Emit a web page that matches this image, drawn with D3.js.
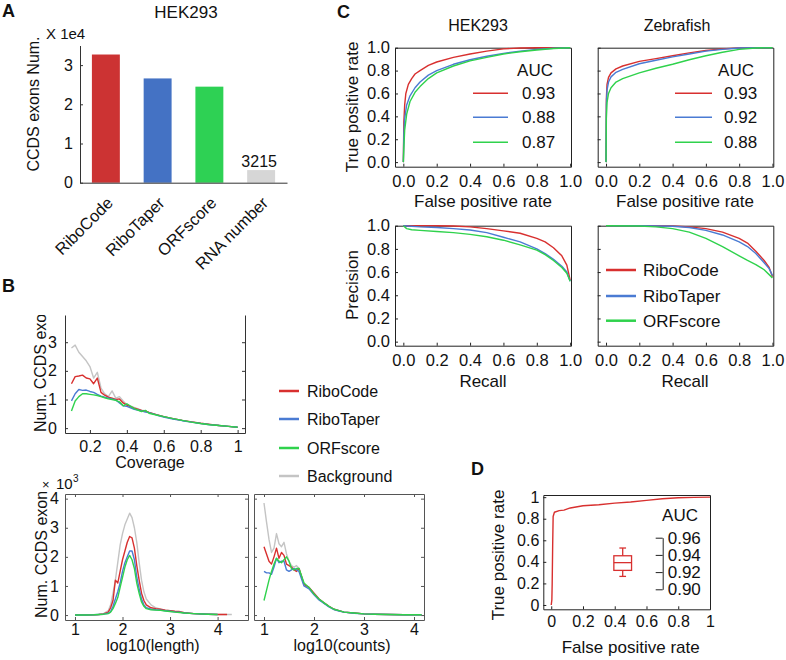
<!DOCTYPE html>
<html><head><meta charset="utf-8">
<script src="https://cdn.jsdelivr.net/npm/d3@7"></script>
<style>body{margin:0;background:#fff}</style>
</head><body><svg id="c" width="786" height="660"></svg>
<script>
// ================= DATA =================
// Panel A
const barCategories = ["RiboCode","RiboTaper","ORFscore","RNA number"];
const barValues = [3.27, 2.66, 2.45, 0.3215];      // x 1e4
const barTicks = [0,1,2,3];
const barNote = "3215";

// Panel B top: coverage
const covX     = [0.10,0.12,0.14,0.16,0.18,0.20,0.22,0.24,0.26,0.28,0.30,0.32,0.34,0.36,0.38,0.40,0.44,0.48,0.50,0.52,0.56,0.60,0.65,0.70,0.75,0.80,0.85,0.90,0.95,1.00];
const covBg    = [2.80,2.90,2.65,2.50,2.35,2.15,1.75,1.95,1.40,1.20,1.10,1.30,1.05,1.10,0.95,0.82,0.72,0.63,0.60,0.55,0.47,0.40,0.33,0.27,0.22,0.17,0.13,0.09,0.06,0.03];
const covRibo  = [1.55,1.80,1.82,1.85,1.75,1.72,1.55,1.75,1.25,1.15,1.08,1.05,1.00,1.02,0.88,0.80,0.70,0.62,0.60,0.55,0.47,0.40,0.33,0.27,0.22,0.17,0.13,0.09,0.06,0.03];
const covTaper = [0.95,1.20,1.35,1.32,1.33,1.28,1.25,1.18,1.12,1.08,1.05,1.02,0.98,0.88,0.78,0.76,0.66,0.60,0.56,0.54,0.46,0.39,0.32,0.26,0.21,0.16,0.12,0.09,0.06,0.03];
const covORF   = [0.60,0.95,1.10,1.20,1.20,1.18,1.16,1.14,1.10,1.06,1.02,1.00,0.97,0.92,0.78,0.85,0.68,0.58,0.62,0.52,0.46,0.40,0.33,0.27,0.21,0.16,0.12,0.09,0.06,0.03];
const covXTicks = [0.2,0.4,0.6,0.8,1];
const covYTicks = [0,1,2,3];

// Panel B bottom-left: log10(length)  (x 1e3)
const lenX     = [1.0,1.2,1.4,1.5,1.6,1.7,1.75,1.8,1.85,1.9,1.95,2.0,2.05,2.1,2.15,2.2,2.25,2.3,2.35,2.4,2.45,2.5,2.6,2.7,2.8,2.9,3.0,3.1,3.2,3.3,3.5,3.8,4.0,4.2,4.3];
const lenBg    = [0,0,0.01,0.02,0.05,0.15,0.35,0.75,1.2,1.8,2.4,2.8,3.1,3.3,3.5,3.35,3.0,2.5,1.8,1.2,0.8,0.55,0.35,0.25,0.2,0.17,0.15,0.12,0.1,0.08,0.05,0.03,0.02,0.02,0.02];
const lenRibo  = [0,0,0.01,0.02,0.04,0.1,0.25,0.5,1.2,1.1,1.5,1.9,2.2,2.5,2.7,2.65,2.3,1.7,1.2,0.75,0.5,0.35,0.25,0.22,0.2,0.17,0.15,0.13,0.12,0.08,0.05,0.03,0.02,0.02,null];
const lenTaper = [0,0,0.01,0.02,0.03,0.06,0.12,0.3,0.55,0.8,1.1,1.5,1.8,2.0,2.2,2.2,1.9,1.3,0.9,0.55,0.35,0.25,0.2,0.18,0.17,0.15,0.13,0.11,0.1,0.07,0.05,0.03,0.02,null,null];
const lenORF   = [0,0,0.01,0.02,0.03,0.05,0.1,0.22,0.4,0.6,0.95,1.3,1.65,1.9,2.05,1.9,1.6,1.1,0.75,0.45,0.3,0.22,0.18,0.17,0.16,0.14,0.12,0.1,0.09,0.07,0.05,0.03,0.02,null,null];
const logXTicks = [1,2,3,4];
const logYTicks = [0,1,2,3,4];

// Panel B bottom-right: log10(counts)
const cntX     = [1.0,1.05,1.1,1.15,1.2,1.25,1.3,1.35,1.4,1.45,1.5,1.55,1.6,1.65,1.7,1.8,1.9,2.0,2.1,2.2,2.3,2.4,2.5,2.6,2.8,3.0,3.2,3.5,3.8,4.15];
const cntBg    = [3.85,3.2,2.6,2.15,2.3,2.8,2.45,2.35,2.5,2.1,1.85,1.7,1.65,1.7,1.6,1.05,0.95,0.75,0.55,0.42,0.3,0.2,0.15,0.1,0.07,0.04,0.03,0.02,0.01,0.01];
const cntRibo  = [2.35,2.1,1.85,1.75,2.0,2.3,1.95,2.15,2.05,1.75,1.7,1.65,1.55,1.5,1.6,1.05,0.95,0.75,0.55,0.42,0.3,0.2,0.15,0.1,0.07,0.04,0.03,0.02,0.01,0.01];
const cntTaper = [1.5,1.45,1.45,1.4,1.65,1.95,1.8,1.85,1.85,1.55,1.5,1.55,1.6,1.55,1.5,1.0,0.9,0.7,0.52,0.4,0.28,0.19,0.14,0.1,0.06,0.04,0.03,0.02,0.01,0.01];
const cntORF   = [0.5,0.85,1.2,1.5,1.75,1.95,1.85,1.8,1.9,2.0,1.85,1.6,1.55,1.6,1.6,1.1,0.95,0.72,0.55,0.42,0.3,0.2,0.15,0.1,0.07,0.04,0.03,0.02,0.01,0.01];

// Panel C: ROC curves [fpr, tpr]
const rocHekRibo  = [[0,0],[0.003,0.35],[0.008,0.5],[0.015,0.6],[0.03,0.68],[0.05,0.73],[0.07,0.77],[0.1,0.8],[0.15,0.845],[0.2,0.875],[0.3,0.915],[0.4,0.945],[0.5,0.97],[0.6,0.99],[0.7,0.997],[0.8,1],[1,1]];
const rocHekTaper = [[0,0],[0.003,0.25],[0.008,0.38],[0.02,0.5],[0.04,0.58],[0.07,0.65],[0.1,0.7],[0.15,0.76],[0.2,0.8],[0.3,0.855],[0.4,0.895],[0.5,0.925],[0.6,0.95],[0.7,0.97],[0.8,0.985],[0.9,0.995],[1,1]];
const rocHekORF   = [[0,0],[0.003,0.12],[0.008,0.28],[0.02,0.42],[0.04,0.53],[0.07,0.61],[0.1,0.66],[0.15,0.73],[0.2,0.78],[0.3,0.84],[0.4,0.885],[0.5,0.915],[0.6,0.945],[0.7,0.965],[0.8,0.98],[0.9,0.993],[1,1]];
const rocZebRibo  = [[0,0],[0.002,0.55],[0.006,0.68],[0.015,0.74],[0.03,0.78],[0.06,0.815],[0.1,0.84],[0.2,0.88],[0.3,0.905],[0.4,0.93],[0.5,0.955],[0.6,0.975],[0.7,0.99],[0.8,0.998],[1,1]];
const rocZebTaper = [[0,0],[0.002,0.5],[0.006,0.63],[0.015,0.7],[0.03,0.745],[0.06,0.785],[0.1,0.81],[0.2,0.86],[0.3,0.89],[0.4,0.92],[0.5,0.945],[0.6,0.97],[0.7,0.985],[0.8,0.997],[1,1]];
const rocZebORF   = [[0,0],[0.002,0.38],[0.006,0.52],[0.015,0.6],[0.03,0.65],[0.06,0.7],[0.1,0.73],[0.2,0.78],[0.3,0.82],[0.4,0.855],[0.5,0.895],[0.6,0.93],[0.7,0.96],[0.8,0.985],[0.9,0.998],[1,1]];
// Panel C: precision-recall [recall, precision]
const prHekRibo   = [[0,1],[0.1,1],[0.2,1],[0.3,0.997],[0.4,0.99],[0.5,0.975],[0.6,0.955],[0.7,0.935],[0.8,0.89],[0.85,0.86],[0.9,0.81],[0.95,0.74],[0.98,0.66],[1,0.53]];
const prHekTaper  = [[0,1],[0.1,0.99],[0.2,0.985],[0.3,0.975],[0.4,0.963],[0.5,0.94],[0.6,0.9],[0.7,0.86],[0.8,0.8],[0.85,0.76],[0.9,0.71],[0.95,0.65],[0.98,0.6],[1,0.52]];
const prHekORF    = [[0,1],[0.02,0.975],[0.05,0.965],[0.1,0.96],[0.2,0.95],[0.3,0.94],[0.4,0.925],[0.5,0.905],[0.6,0.875],[0.7,0.835],[0.8,0.79],[0.85,0.75],[0.9,0.7],[0.95,0.64],[0.98,0.59],[1,0.52]];
const prZebRibo   = [[0,1],[0.2,1],[0.4,0.998],[0.5,0.99],[0.6,0.975],[0.7,0.945],[0.8,0.89],[0.85,0.85],[0.9,0.78],[0.95,0.7],[0.98,0.64],[1,0.56]];
const prZebTaper  = [[0,1],[0.2,1],[0.4,0.995],[0.5,0.985],[0.6,0.96],[0.7,0.92],[0.8,0.86],[0.85,0.82],[0.9,0.76],[0.95,0.68],[0.98,0.63],[1,0.57]];
const prZebORF    = [[0,1],[0.2,0.998],[0.3,0.99],[0.4,0.975],[0.5,0.945],[0.6,0.89],[0.7,0.82],[0.8,0.74],[0.85,0.7],[0.9,0.665],[0.95,0.62],[1,0.55]];
const methods = ["RiboCode","RiboTaper","ORFscore"];
const aucHek = ["0.93","0.88","0.87"];
const aucZeb = ["0.93","0.92","0.88"];
const unitTicks = [0,0.2,0.4,0.6,0.8,1.0];

// Panel D
const rocD = [[0,0],[0.004,0.05],[0.006,0.2],[0.009,0.55],[0.012,0.82],[0.02,0.86],[0.05,0.875],[0.08,0.88],[0.12,0.9],[0.2,0.92],[0.3,0.93],[0.4,0.945],[0.5,0.955],[0.6,0.97],[0.7,0.985],[0.8,0.995],[0.9,0.998],[1,1]];
const aucStats = [0.915, 0.922, 0.931, 0.939, 0.948]; // whisker low, q1, median, q3, whisker high
const aucTicks = [0.90,0.92,0.94,0.96];

// ================= STYLE =================
const FONT = "Arial, 'Liberation Sans', Helvetica, sans-serif";
const C_RED = "#d8302f", C_BLUE = "#4a7bd3", C_GREEN = "#2fd24c", C_GRAY = "#c4c4c4";
const BAR_COLORS = ["#cc3333", "#4472c4", "#2ed154", "#d6d6d6"];
const LINE_COLORS = [C_RED, C_BLUE, C_GREEN];

const svg = d3.select("#c");
svg.append("rect").attr("width",786).attr("height",660).attr("fill","#fff");

function text(x, y, s, o = {}) {
  const parent = o.parent || svg;
  const t = parent.append("text").attr("x", x).attr("y", y).text(s)
    .attr("font-family", FONT).attr("font-size", o.fs || 16)
    .attr("fill", o.fill || "#111")
    .attr("text-anchor", o.anchor || "start");
  if (o.bold) t.attr("font-weight", "bold");
  if (o.rot) t.attr("transform", `rotate(${o.rot},${x},${y})`);
  return t;
}

function styleAxis(sel, color, fs) {
  sel.attr("font-family", FONT).attr("font-size", fs);
  sel.selectAll(".domain").attr("stroke", color).attr("stroke-width", 1);
  sel.selectAll(".tick line").attr("stroke", color);
  sel.selectAll(".tick text").attr("fill", "#111");
}

function boxAxes(x, y, o) {
  const g = svg.append("g");
  const [x0, x1] = x.range(), [y0, y1] = y.range();
  const ts = o.ts == null ? 3 : o.ts;
  g.append("g").attr("transform", `translate(0,${y0})`)
    .call(d3.axisBottom(x).tickValues(o.xt).tickSize(-ts).tickSizeOuter(0).tickPadding(o.xpad).tickFormat(o.xf))
    .call(s => styleAxis(s, o.color, o.fs));
  g.append("g").attr("transform", `translate(${x0},0)`)
    .call(d3.axisLeft(y).tickValues(o.yt).tickSize(-ts).tickSizeOuter(0).tickPadding(o.ypad).tickFormat(o.yf))
    .call(s => styleAxis(s, o.color, o.fs));
  if (o.top) g.append("g").attr("transform", `translate(0,${y1})`)
    .call(d3.axisTop(x).tickValues(o.topTicks || []).tickSize(-ts).tickSizeOuter(0).tickFormat(""))
    .call(s => styleAxis(s, o.color, o.fs));
  if (o.right) g.append("g").attr("transform", `translate(${x1},0)`)
    .call(d3.axisRight(y).tickValues(o.rightTicks || []).tickSize(-ts).tickSizeOuter(0).tickFormat(""))
    .call(s => styleAxis(s, o.color, o.fs));
  return g;
}

function drawLine(x, y, pts, color, w = 1.4) {
  svg.append("path").datum(pts)
    .attr("fill", "none").attr("stroke", color).attr("stroke-width", w)
    .attr("stroke-linejoin", "round")
    .attr("d", d3.line().defined(d => d[1] != null).x(d => x(d[0])).y(d => y(d[1])));
}
const zipXY = (xs, ys) => xs.map((v, i) => [v, ys[i]]);

// ================= PANEL A =================
text(2, 17, "A", {bold: true, fs: 18});
text(186, 18, "HEK293", {anchor: "middle", fs: 17});
text(46, 39, "X 1e4", {fs: 15});
const ax = d3.scaleBand().domain(barCategories).range([80, 287]).paddingInner(0.46).paddingOuter(0.23);
const ay = d3.scaleLinear().domain([0, 3.5]).range([182.7, 45.5]);
svg.append("g").selectAll("rect").data(barValues).join("rect")
  .attr("x", (d, i) => ax(barCategories[i])).attr("width", ax.bandwidth())
  .attr("y", d => ay(d)).attr("height", d => ay(0) - ay(d))
  .attr("fill", (d, i) => BAR_COLORS[i]);
svg.append("g").attr("transform", "translate(80,0)")
  .call(d3.axisLeft(ay).tickValues(barTicks).tickSize(-3).tickSizeOuter(0).tickPadding(7).tickFormat(d3.format("d")))
  .call(s => styleAxis(s, "#333", 16));
svg.append("g").attr("transform", "translate(0,182.7)")
  .call(d3.axisBottom(ax).tickSize(0).tickSizeOuter(0).tickFormat(""))
  .call(s => styleAxis(s, "#333", 16));
barCategories.forEach((c, i) => {
  text(ax(c) + ax.bandwidth() / 2 + 8, 204, c, {anchor: "end", rot: -45, fs: 16.5});
});
text(ax(barCategories[3]) + ax.bandwidth() / 2 - 2, 167, barNote, {anchor: "middle"});
text(39, 104, "CCDS exons Num.", {anchor: "middle", rot: -90});

// ================= PANEL B =================
text(2, 292, "B", {bold: true, fs: 18});
// top coverage plot
const bx = d3.scaleLinear().domain([0.065, 1.04]).range([65, 245]);
const by = d3.scaleLinear().domain([-0.17, 3.95]).range([433, 315]);
boxAxes(bx, by, {xt: covXTicks, yt: covYTicks, xf: d3.format(""), yf: d3.format("d"),
  xpad: 8, ypad: 8, color: "#333", fs: 16, right: true, rightTicks: covYTicks});
[[covBg, C_GRAY], [covRibo, C_RED], [covTaper, C_BLUE], [covORF, C_GREEN]].forEach(([s, c]) =>
  drawLine(bx, by, zipXY(covX, s), c));
text(150, 468, "Coverage", {anchor: "middle"});
svg.append("clipPath").attr("id", "clipB").append("rect").attr("x", 0).attr("y", 315).attr("width", 60).attr("height", 130);
const gClip = svg.append("g").attr("clip-path", "url(#clipB)");
text(46, 432, "Num. CCDS exons", {rot: -90, parent: gClip});

// legend B
const legB = ["RiboCode", "RiboTaper", "ORFscore", "Background"];
const legBC = [C_RED, C_BLUE, C_GREEN, C_GRAY];
const legBY = [391, 419, 448, 476];
legB.forEach((l, i) => {
  svg.append("line").attr("x1", 279).attr("x2", 299).attr("y1", legBY[i]).attr("y2", legBY[i])
    .attr("stroke", legBC[i]).attr("stroke-width", 2.5);
  text(307, legBY[i] + 6, l);
});

// bottom-left
const lx = d3.scaleLinear().domain([0.79, 4.64]).range([65, 248]);
const ly = d3.scaleLinear().domain([-0.17, 4.16]).range([620, 494]);
boxAxes(lx, ly, {xt: logXTicks, yt: logYTicks, xf: d3.format("d"), yf: d3.format("d"),
  xpad: 4, ypad: 6, color: "#555", fs: 16, top: true, topTicks: logXTicks, right: true, rightTicks: logYTicks});
[[lenBg, C_GRAY], [lenRibo, C_RED], [lenTaper, C_BLUE], [lenORF, C_GREEN]].forEach(([s, c]) =>
  drawLine(lx, ly, zipXY(lenX, s), c));
text(153, 651, "log10(length)", {anchor: "middle"});
text(47, 618, "Num. CCDS exon", {rot: -90});
text(42, 489, "×", {fs: 13});
text(56, 489, "10", {fs: 15});
text(73, 482, "3", {fs: 10});

// bottom-right
const cx = d3.scaleLinear().domain([0.8, 4.2]).range([254, 424]);
const cy = d3.scaleLinear().domain([-0.17, 4.16]).range([620, 494]);
boxAxes(cx, cy, {xt: logXTicks, yt: logYTicks, xf: d3.format("d"), yf: "",
  xpad: 4, ypad: 6, color: "#555", fs: 16, top: true, topTicks: logXTicks, right: true, rightTicks: logYTicks});
[[cntBg, C_GRAY], [cntRibo, C_RED], [cntTaper, C_BLUE], [cntORF, C_GREEN]].forEach(([s, c]) =>
  drawLine(cx, cy, zipXY(cntX, s), c));
text(342, 651, "log10(counts)", {anchor: "middle"});

// ================= PANEL C =================
text(337, 18, "C", {bold: true, fs: 18});
const f1 = d3.format(".1f");
function cPlot(x0, x1, y0, y1, yd0, showY) {
  const x = d3.scaleLinear().domain([-0.05, 1.005]).range([x0, x1]);
  const y = d3.scaleLinear().domain([yd0, 1.0]).range([y0, y1]);
  boxAxes(x, y, {xt: unitTicks, yt: unitTicks, xf: f1, yf: showY ? f1 : "",
    xpad: 9, ypad: 5, color: "#222", fs: 16.5, top: true, right: true});
  return {x, y};
}
const c1 = cPlot(395, 571, 166.7, 47.7, -0.04, true);
const c2 = cPlot(597.7, 773.3, 166.7, 47.7, -0.04, false);
const c3 = cPlot(395, 571, 345.7, 225.7, -0.035, true);
const c4 = cPlot(597.7, 773.3, 345.7, 225.7, -0.035, false);
[rocHekRibo, rocHekTaper, rocHekORF].forEach((s, i) => drawLine(c1.x, c1.y, s, LINE_COLORS[i]));
[rocZebRibo, rocZebTaper, rocZebORF].forEach((s, i) => drawLine(c2.x, c2.y, s, LINE_COLORS[i]));
[prHekRibo, prHekTaper, prHekORF].forEach((s, i) => drawLine(c3.x, c3.y, s, LINE_COLORS[i]));
[prZebRibo, prZebTaper, prZebORF].forEach((s, i) => drawLine(c4.x, c4.y, s, LINE_COLORS[i]));
text(478, 31, "HEK293", {anchor: "middle"});
text(677, 31, "Zebrafish", {anchor: "middle"});
text(483, 207, "False positive rate", {anchor: "middle", fs: 17});
text(685, 207, "False positive rate", {anchor: "middle", fs: 17});
text(483, 387, "Recall", {anchor: "middle", fs: 17});
text(685, 387, "Recall", {anchor: "middle", fs: 17});
text(358, 107, "True positive rate", {anchor: "middle", rot: -90, fs: 17});
text(358, 285, "Precision", {anchor: "middle", rot: -90, fs: 17});
// AUC legends
const aucY = [93.3, 117.3, 142.3];
text(535, 76, "AUC", {anchor: "middle", fs: 17});
text(736, 76, "AUC", {anchor: "middle", fs: 17});
aucY.forEach((yy, i) => {
  svg.append("line").attr("x1", 473).attr("x2", 508).attr("y1", yy).attr("y2", yy).attr("stroke", LINE_COLORS[i]).attr("stroke-width", 1.5);
  text(522, yy + 6, aucHek[i], {fs: 17});
  svg.append("line").attr("x1", 675).attr("x2", 712).attr("y1", yy).attr("y2", yy).attr("stroke", LINE_COLORS[i]).attr("stroke-width", 1.5);
  text(724, yy + 6, aucZeb[i], {fs: 17});
});
const prLegY = [270, 296, 320.7];
methods.forEach((m, i) => {
  svg.append("line").attr("x1", 606).attr("x2", 636).attr("y1", prLegY[i]).attr("y2", prLegY[i]).attr("stroke", LINE_COLORS[i]).attr("stroke-width", 2.5);
  text(643, prLegY[i] + 6, m, {fs: 17});
});

// ================= PANEL D =================
text(471, 475, "D", {bold: true, fs: 18});
const dx = d3.scaleLinear().domain([-0.05, 1.0]).range([543.3, 710]);
const dy = d3.scaleLinear().domain([-0.04, 1.02]).range([609.3, 495]);
boxAxes(dx, dy, {xt: unitTicks, yt: unitTicks, xf: d3.format(""), yf: d3.format(""),
  xpad: 6, ypad: 4, color: "#222", fs: 16, top: true, right: true});
drawLine(dx, dy, rocD, C_RED);
text(630.7, 653, "False positive rate", {anchor: "middle", fs: 17});
text(504, 555, "True positive rate", {anchor: "middle", rot: -90, fs: 17});
text(680, 521, "AUC", {anchor: "middle", fs: 17});
// inset AUC axis + boxplot
const iy = d3.scaleLinear().domain([0.90, 0.96]).range([589.3, 537.7]);
svg.append("g").attr("transform", "translate(662.7,0)")
  .call(d3.axisRight(iy).tickValues(aucTicks).tickSize(-7).tickSizeOuter(0).tickPadding(5).tickFormat(d3.format(".2f")))
  .call(s => styleAxis(s, "#222", 17));
const bxC = 622.7, bw = 17.7, cw = 6.7;
const [wl, q1, md, q3, wh] = aucStats;
const gB = svg.append("g").attr("stroke", C_RED).attr("stroke-width", 1.3).attr("fill", "none");
gB.append("line").attr("x1", bxC).attr("x2", bxC).attr("y1", iy(wh)).attr("y2", iy(q3));
gB.append("line").attr("x1", bxC).attr("x2", bxC).attr("y1", iy(q1)).attr("y2", iy(wl));
gB.append("line").attr("x1", bxC - cw / 2).attr("x2", bxC + cw / 2).attr("y1", iy(wh)).attr("y2", iy(wh));
gB.append("line").attr("x1", bxC - cw / 2).attr("x2", bxC + cw / 2).attr("y1", iy(wl)).attr("y2", iy(wl));
gB.append("rect").attr("x", bxC - bw / 2).attr("width", bw).attr("y", iy(q3)).attr("height", iy(q1) - iy(q3));
gB.append("line").attr("x1", bxC - bw / 2).attr("x2", bxC + bw / 2).attr("y1", iy(md)).attr("y2", iy(md));
</script></body></html>
